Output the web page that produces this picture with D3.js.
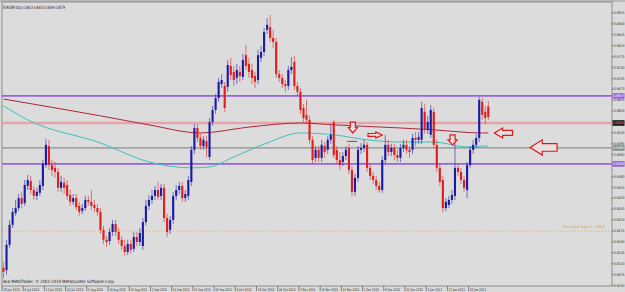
<!DOCTYPE html>
<html><head><meta charset="utf-8">
<script src="https://cdn.jsdelivr.net/npm/d3@7"></script>
<style>html,body{margin:0;padding:0;background:#d6d6d6;}svg{display:block;}</style>
</head><body>
<script>
// ---- DATA ----
const symbolTitle = "EURGBP,Daily  0.8613 0.8632 0.8569 0.8579";
const copyright = "Ava MetaTrader, \u00a9 2001-2010 MetaQuotes Software Corp.";
const openP = [.8095,.8088,.8169,.8233,.8271,.8287,.8319,.8303,.8358,.8374,.8345,.8326,.8336,.8358,.8425,.8486,.8425,.8416,.8403,.8352,
.8368,.8361,.8329,.8307,.8319,.8294,.8278,.8287,.8313,.8307,.8297,.8287,.8274,.8217,.8185,.8181,.8210,.8236,.8210,.8185,
.8165,.8146,.8172,.8156,.8194,.8178,.8165,.8242,.8294,.8313,.8326,.8345,.8326,.8352,.8255,.8217,.8249,.8326,.8345,.8358,
.8319,.8326,.8371,.8474,.8544,.8512,.8486,.8502,.8451,.8563,.8602,.8640,.8685,.8679,.8676,.8743,.8724,.8705,.8724,.8708,
.8778,.8750,.8730,.8711,.8698,.8769,.8788,.8859,.8868,.8833,.8820,.8717,.8705,.8685,.8679,.8730,.8756,.8679,.8660,.8608,
.8586,.8570,.8506,.8448,.8474,.8448,.8486,.8474,.8506,.8563,.8474,.8441,.8435,.8454,.8480,.8409,.8339,.8384,.8474,.8480,
.8490,.8416,.8390,.8377,.8358,.8345,.8441,.8490,.8467,.8480,.8457,.8448,.8480,.8490,.8474,.8474,.8512,.8506,.8506,.8596,
.8538,.8522,.8596,.8490,.8416,.8377,.8287,.8297,.8313,.8326,.8416,.8403,.8377,.8345,.8425,.8474,.8490,.8512,.8628,.8596,.8613];
const highP = [.8114,.8185,.8249,.8287,.8313,.8332,.8339,.8377,.8393,.8390,.8358,.8352,.8377,.8441,.8509,.8506,.8441,.8435,.8416,.8390,
.8384,.8377,.8345,.8332,.8332,.8307,.8300,.8326,.8326,.8345,.8313,.8300,.8287,.8230,.8197,.8223,.8249,.8249,.8223,.8197,
.8185,.8185,.8185,.8210,.8210,.8223,.8255,.8313,.8329,.8345,.8358,.8371,.8364,.8364,.8268,.8262,.8339,.8361,.8371,.8371,
.8345,.8390,.8486,.8557,.8557,.8525,.8518,.8518,.8576,.8615,.8653,.8705,.8717,.8692,.8762,.8769,.8743,.8750,.8743,.8782,
.8811,.8769,.8750,.8724,.8795,.8807,.8865,.8897,.8907,.8859,.8833,.8730,.8717,.8698,.8743,.8772,.8775,.8692,.8672,.8621,
.8634,.8583,.8518,.8486,.8486,.8506,.8499,.8518,.8554,.8570,.8486,.8467,.8467,.8486,.8493,.8422,.8397,.8486,.8496,.8506,
.8499,.8429,.8403,.8390,.8371,.8454,.8522,.8506,.8493,.8493,.8474,.8493,.8506,.8506,.8486,.8525,.8531,.8531,.8628,.8621,
.8583,.8618,.8608,.8506,.8429,.8390,.8319,.8326,.8345,.8496,.8429,.8416,.8390,.8435,.8486,.8506,.8525,.8644,.8640,.8615,.8632];
const lowP = [.8063,.8072,.8159,.8223,.8262,.8278,.8287,.8294,.8345,.8332,.8313,.8313,.8326,.8345,.8416,.8409,.8390,.8384,.8339,.8339,
.8332,.8313,.8294,.8297,.8281,.8262,.8268,.8278,.8294,.8281,.8274,.8262,.8204,.8172,.8162,.8169,.8197,.8197,.8172,.8153,
.8133,.8136,.8140,.8146,.8165,.8165,.8153,.8230,.8281,.8300,.8313,.8313,.8313,.8242,.8194,.8204,.8236,.8313,.8332,.8307,
.8307,.8313,.8358,.8461,.8499,.8474,.8474,.8451,.8441,.8551,.8589,.8628,.8672,.8596,.8660,.8698,.8679,.8685,.8692,.8698,
.8730,.8705,.8685,.8672,.8685,.8756,.8775,.8846,.8820,.8801,.8705,.8692,.8672,.8660,.8666,.8717,.8666,.8647,.8589,.8563,
.8557,.8493,.8429,.8435,.8435,.8435,.8448,.8461,.8493,.8448,.8429,.8409,.8422,.8441,.8397,.8323,.8326,.8371,.8461,.8467,
.8403,.8377,.8364,.8345,.8336,.8336,.8429,.8454,.8454,.8441,.8435,.8435,.8467,.8461,.8448,.8461,.8486,.8493,.8493,.8525,
.8525,.8512,.8480,.8403,.8358,.8274,.8278,.8287,.8300,.8313,.8390,.8364,.8339,.8319,.8416,.8461,.8480,.8499,.8570,.8557,.8569];
const closeP = [.8082,.8169,.8233,.8274,.8287,.8319,.8300,.8361,.8377,.8345,.8326,.8339,.8361,.8429,.8490,.8425,.8409,.8403,.8352,.8371,
.8352,.8326,.8307,.8319,.8290,.8274,.8287,.8313,.8307,.8294,.8287,.8274,.8217,.8185,.8178,.8210,.8236,.8210,.8185,.8165,
.8146,.8172,.8153,.8194,.8178,.8207,.8242,.8294,.8313,.8326,.8345,.8323,.8352,.8255,.8210,.8249,.8326,.8345,.8358,.8319,
.8332,.8377,.8474,.8544,.8512,.8486,.8506,.8483,.8563,.8602,.8640,.8692,.8698,.8608,.8746,.8714,.8698,.8730,.8711,.8762,
.8743,.8724,.8705,.8692,.8778,.8788,.8852,.8875,.8833,.8820,.8717,.8705,.8685,.8679,.8730,.8740,.8679,.8660,.8602,.8576,
.8570,.8506,.8441,.8474,.8448,.8490,.8467,.8506,.8522,.8457,.8441,.8425,.8454,.8474,.8409,.8339,.8384,.8474,.8480,.8490,
.8416,.8390,.8377,.8358,.8345,.8441,.8490,.8467,.8480,.8457,.8448,.8480,.8490,.8474,.8467,.8512,.8506,.8515,.8608,.8538,
.8563,.8602,.8490,.8416,.8371,.8287,.8307,.8313,.8329,.8416,.8403,.8377,.8352,.8425,.8474,.8490,.8512,.8634,.8586,.8576,.8579];
// moving averages (sampled at bar indices)
const maSlowIdx = [0,15,32,48,65,81,98,109,131,142,158,160];
const maSlowVal = [.8637,.8612,.8583,.8554,.8528,.8547,.8560,.8554,.8544,.8538,.8528,.8528];
const maFastIdx = [0,8,32,48,62,68,76,87,98,109,120,131,142,153,158,160];
const maFastVal = [.8615,.8570,.8496,.8435,.8416,.8419,.8451,.8496,.8528,.8522,.8506,.8499,.8499,.8483,.8486,.8486];
// horizontal levels
const levelPrices = [.8647,.8560,.8480,.8429];
const levelKinds = ["purple","pink","grey","purple"];
const targetPrice = .8213;
const targetLabel = "Short Short Target 3 - 0.8213";
// axis labels
const dateLabels = ["29 Jun 2010","6 Jul 2010","14 Jul 2010","23 Jul 2010","5 Aug 2010","16 Aug 2010","24 Aug 2010","2 Sep 2010",
"13 Sep 2010","21 Sep 2010","30 Sep 2010","8 Oct 2010","19 Oct 2010","28 Oct 2010","7 Nov 2010","16 Nov 2010","23 Nov 2010",
"1 Dec 2010","9 Dec 2010","21 Dec 2010","3 Jan 2011","11 Jan 2011","20 Jan 2011"];
const dateLabelStep = 7;
const priceTicks = [.8040,.8075,.8110,.8145,.8180,.8215,.8250,.8285,.8320,.8355,.8390,.8425,.8460,.8495,.8530,.8565,.8600,.8635,.8670,.8705,.8740,.8775,.8810,.8845,.8880,.8915];
// annotations: arrows [direction, start bar, end bar, price top, price bottom]
const arrowDir = ["down","right","down","left","left"];
const arrowI0 = [113.8,120.3,146.7,162,173.8];
const arrowI1 = [116.8,125,149.7,168,182.7];
const arrowPTop = [.8563,.8531,.8522,.8544,.8506];
const arrowPBot = [.8528,.8512,.8490,.8512,.8457];
const markI0 = 113.4, markI1 = 116.7, markP = .8501;

// ---- DRAW ----
const W=625,H=292, plotL=2, plotR=612, plotT=2, plotB=286;
const FONT="'Liberation Sans Narrow','DejaVu Sans Condensed','Liberation Sans',Arial,sans-serif";
const svg=d3.select("body").append("svg").attr("width",W).attr("height",H).style("font-family",FONT);
svg.append("rect").attr("width",W).attr("height",H).attr("fill","#dadada");
svg.append("rect").attr("x",0).attr("y",0).attr("width",W).attr("height",2).attr("fill","#b8b8b8");
svg.append("rect").attr("x",plotL).attr("y",plotT).attr("width",plotR-plotL).attr("height",plotB-plotT)
  .attr("fill","#dcdcdc").attr("stroke","#7a7a7a").attr("stroke-width",0.8);

const x=d3.scaleLinear().domain([0,200]).range([3.5,3.5+606]);
const y=d3.scaleLinear().domain([0.8040,0.8915]).range([285,12.4]);

const g=svg.append("g");
const lvlColor={purple:"#9b62e0",pink:"#e6a4a8",grey:"#7c7c7c"};
const lvlWidth={purple:1.8,pink:2.6,grey:1};
g.selectAll(".lvl").data(levelPrices).join("line")
  .attr("x1",plotL).attr("x2",plotR).attr("y1",d=>y(d)).attr("y2",d=>y(d))
  .attr("stroke",(d,i)=>lvlColor[levelKinds[i]]).attr("stroke-width",(d,i)=>lvlWidth[levelKinds[i]]);
g.append("line").attr("x1",plotL).attr("x2",plotR).attr("y1",y(targetPrice)).attr("y2",y(targetPrice))
  .attr("stroke","#e0a040").attr("stroke-width",0.8).attr("stroke-dasharray","1,2");
g.append("text").attr("x",605).attr("y",y(targetPrice)-3).attr("text-anchor","end")
  .attr("font-size",3.8).attr("fill","#d39a3c").attr("textLength",42).attr("lengthAdjust","spacingAndGlyphs").text(targetLabel);

const line=d3.line().x(d=>x(d[0])).y(d=>y(d[1])).curve(d3.curveMonotoneX);
g.append("path").attr("d",line(maSlowIdx.map((v,i)=>[v,maSlowVal[i]]))).attr("fill","none")
  .attr("stroke","#b0263a").attr("stroke-width",1);
g.append("path").attr("d",line(maFastIdx.map((v,i)=>[v,maFastVal[i]]))).attr("fill","none")
  .attr("stroke","#3cc0bc").attr("stroke-width",1);

const bars=openP.map((o,i)=>({i,o,h:highP[i],l:lowP[i],c:closeP[i]}));
const col=d=>d.c>=d.o?"#1a1aa8":"#e21b1b";
g.selectAll(".wick").data(bars).join("line")
  .attr("x1",d=>x(d.i)).attr("x2",d=>x(d.i)).attr("y1",d=>y(d.h)).attr("y2",d=>y(d.l))
  .attr("stroke",col).attr("stroke-width",0.8).attr("stroke-opacity",0.7);
g.selectAll(".body").data(bars).join("rect")
  .attr("x",d=>x(d.i)-1.05).attr("width",2.1)
  .attr("y",d=>y(Math.max(d.o,d.c))).attr("height",d=>Math.max(0.8,Math.abs(y(d.o)-y(d.c))))
  .attr("fill",col);

function arrowPath(dir,x0,x1,y0,y1){
  const w=x1-x0,h=y1-y0;
  if(dir==="down"){
    const cx=(x0+x1)/2, s=w*0.28, hs=y0+h*0.5;
    return `M${cx-s},${y0}L${cx+s},${y0}L${cx+s},${hs}L${x1},${hs}L${cx},${y1}L${x0},${hs}L${cx-s},${hs}Z`;
  }
  const cy=(y0+y1)/2, s=h*0.25;
  if(dir==="right"){const hx=x0+w*0.55;return `M${x0},${cy-s}L${hx},${cy-s}L${hx},${y0}L${x1},${cy}L${hx},${y1}L${hx},${cy+s}L${x0},${cy+s}Z`;}
  const hx=x1-w*0.55;return `M${x1},${cy-s}L${hx},${cy-s}L${hx},${y0}L${x0},${cy}L${hx},${y1}L${hx},${cy+s}L${x1},${cy+s}Z`;
}
g.selectAll(".arrow").data(arrowDir).join("path")
  .attr("d",(d,i)=>arrowPath(d,x(arrowI0[i]),x(arrowI1[i]),y(arrowPTop[i]),y(arrowPBot[i])))
  .attr("fill","#e8e0e0").attr("stroke","#e01818").attr("stroke-width",1.2).attr("stroke-linejoin","miter");
g.append("line").attr("x1",x(markI0)).attr("x2",x(markI1)).attr("y1",y(markP)).attr("y2",y(markP))
  .attr("stroke","#e01818").attr("stroke-width",1);

svg.append("text").attr("x",3).attr("y",9).attr("font-size",4.4).attr("fill","#222")
  .attr("textLength",62).attr("lengthAdjust","spacingAndGlyphs").text(symbolTitle);
svg.append("text").attr("x",3).attr("y",283).attr("font-size",4.4).attr("fill","#222")
  .attr("textLength",112).attr("lengthAdjust","spacingAndGlyphs").text(copyright);

const ya=svg.append("g").attr("transform",`translate(${plotR},0)`)
  .call(d3.axisRight(y).tickValues(priceTicks).tickSize(1.2).tickFormat(d3.format(".4f")));
ya.select(".domain").remove();
ya.selectAll("line").attr("stroke","#555");
ya.selectAll("text").attr("font-size",3.8).attr("fill","#333").attr("x",1.8).attr("font-family",FONT)
  .attr("textLength",10.5).attr("lengthAdjust","spacingAndGlyphs");
const lblFill={purple:"#9b62e0",pink:"#1a1a1a",grey:"#8a8a8a"};
const lbl=svg.selectAll(".lbl").data(levelPrices).join("g").attr("transform",d=>`translate(${plotR},${y(d)})`);
lbl.append("rect").attr("x",0.5).attr("y",-2.8).attr("width",12).attr("height",5.6).attr("fill",(d,i)=>lblFill[levelKinds[i]]);
lbl.append("text").attr("x",1.2).attr("y",1.5).attr("font-size",3.8).attr("fill",(d,i)=>levelKinds[i]==="pink"?"#ff8080":"#fff")
  .attr("textLength",10.5).attr("lengthAdjust","spacingAndGlyphs").text(d=>d.toFixed(4));

const dateIdx=dateLabels.map((d,i)=>i*dateLabelStep);
const xa=svg.append("g").attr("transform",`translate(0,${plotB})`);
const dt=xa.selectAll("g").data(dateIdx).join("g").attr("transform",d=>`translate(${x(d)-1.5},0)`);
dt.append("line").attr("y1",0).attr("y2",5).attr("stroke","#444").attr("stroke-width",0.6);
dt.append("text").attr("x",1.2).attr("y",4.6).attr("font-size",3.8).attr("fill","#333")
  .attr("textLength",(d,i)=>dateLabels[i].length>10?16.5:15).attr("lengthAdjust","spacingAndGlyphs").text((d,i)=>dateLabels[i]);
</script>
</body></html>
